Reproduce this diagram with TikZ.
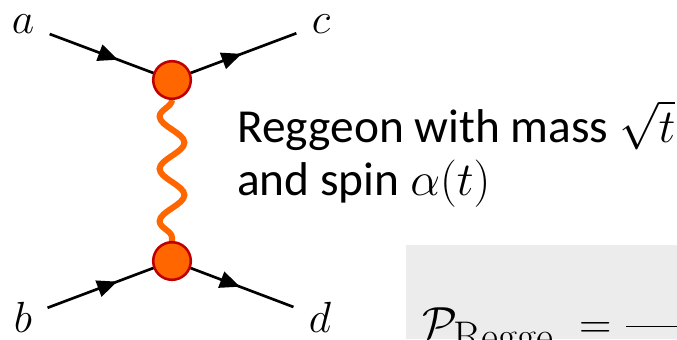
\documentclass[tikz,border=0pt]{standalone}
\usepackage{fix-cm}
\usepackage{fontspec}
\newfontfamily\calibri{Carlito}
\newcommand{\captionfont}{\calibri\fontsize{33.7}{37.7}\selectfont\setlength{\lineskiplimit}{-100pt}}
\usetikzlibrary{arrows.meta, decorations.markings, decorations.pathmorphing, backgrounds}

\definecolor{reggeorange}{HTML}{FF6600}
\definecolor{vertexred}{HTML}{C00000}
\definecolor{boxgray}{HTML}{ECECEC}

\begin{document}
\begin{tikzpicture}[
    vertex/.style={circle, draw=vertexred, fill=reggeorange, line width=1.8pt, minimum size=9.4mm, inner sep=0pt},
    particle/.style={font=\fontsize{31}{31}\selectfont, inner sep=1pt, outer sep=10pt},
    fermion/.style={line width=1.9pt, postaction={decorate},
      decoration={markings, mark=at position 0.56 with {\arrow{Triangle[length=5mm, width=4.2mm]}}}},
    reggeon/.style={line width=4.3pt, reggeorange, decorate,
      decoration={snake, mirror, amplitude=3.1mm, segment length=13.1mm}}
  ]
  \useasboundingbox (0,0) rectangle (16.925,8.475);
  \clip (0,0) rectangle (16.925,8.475);
  % Vertices
  \node[vertex] (v1) at (4.3, 6.475) {};
  \node[vertex] (v2) at (4.3, 1.95) {};
  % External particles
  \node[particle] (a) at (0.575, 7.875) {$a$};
  \node[particle] (c) at (8.025, 7.875) {$c$};
  \node[particle] (b) at (0.575, 0.55) {$b$};
  \node[particle] (d) at (8.0, 0.55) {$d$};
  \begin{scope}[on background layer]
    % Exchanged reggeon
    \draw[reggeon] (v1) -- (v2);
    % Incoming and outgoing lines
    \draw[fermion] (a) -- (v1.center);
    \draw[fermion] (v1.center) -- (c);
    \draw[fermion] (b) -- (v2.center);
    \draw[fermion] (v2.center) -- (d);
  \end{scope}
  % Caption
  \node[anchor=base west, align=left, inner sep=0pt, font=\captionfont] (caption) at (5.925, 3.6)
    {Reggeon with mass $\sqrt{t}$\\and spin $\alpha(t)$};
  % Amplitude box (cut off at the edge)
  \fill[boxgray] (10.15, 0) rectangle (17, 2.35);
  \node[anchor=base west, inner sep=0pt, font=\fontsize{32}{38}\selectfont] (regge) at (10.55, 0.025)
    {$\mathcal{P}_{\mbox{\raisebox{-0.06cm}{\fontsize{29.5}{30}\selectfont Regge}}} \mkern5mu = \frac{\hspace{2cm}}{}$};
\end{tikzpicture}
\end{document}
